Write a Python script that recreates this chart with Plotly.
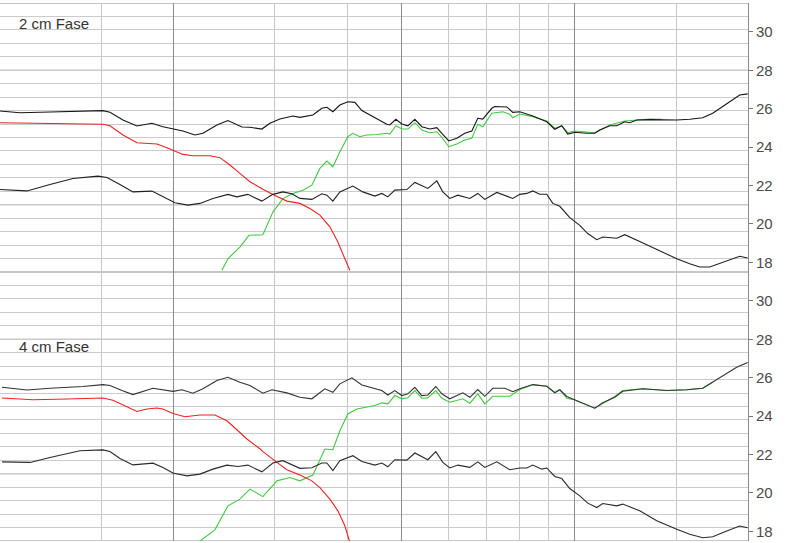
import plotly.graph_objects as go

# ---------------- data (x = position along the unlabeled horizontal axis) ----------------
# Panel 1: "2 cm Fase"
t1_x = [0, 20, 50, 80, 103, 110, 123, 137, 152, 163, 173, 183, 195, 203, 217, 228, 242, 250, 262, 270,
        280, 293, 300, 313, 322, 327, 333, 340, 348, 355, 362, 373, 387, 390, 396, 402, 408, 415, 422, 430,
        437, 442, 449, 457, 465, 472, 478, 483, 492, 495, 507, 513, 520, 533, 547, 555, 562, 568, 575, 587,
        595, 600, 610, 617, 625, 630, 637, 650, 677, 690, 703, 713, 723, 733, 740, 748]
t1_y = [25.88, 25.79, 25.83, 25.88, 25.90, 25.81, 25.41, 25.10, 25.24, 25.06, 24.94, 24.84, 24.63, 24.72, 25.15, 25.38, 25.05, 25.03, 24.94, 25.24,
        25.46, 25.62, 25.55, 25.67, 26.02, 26.07, 25.84, 26.19, 26.36, 26.33, 25.90, 25.58, 25.19, 25.15, 25.45, 25.20, 25.11, 25.45, 25.06, 24.94,
        25.01, 24.72, 24.32, 24.46, 24.72, 24.84, 25.50, 25.46, 26.02, 26.11, 26.09, 25.81, 25.84, 25.62, 25.32, 24.93, 25.11, 24.68, 24.77, 24.72,
        24.72, 24.89, 25.11, 25.11, 25.32, 25.27, 25.41, 25.43, 25.41, 25.45, 25.53, 25.76, 26.11, 26.48, 26.71, 26.77]

b1_x = [0, 27, 50, 73, 98, 107, 120, 133, 152, 163, 175, 188, 200, 213, 228, 237, 248, 262, 273, 283,
        292, 300, 312, 322, 327, 333, 340, 353, 363, 375, 382, 388, 395, 407, 415, 428, 437, 443, 450, 458,
        470, 478, 485, 497, 510, 513, 520, 527, 533, 540, 547, 553, 560, 570, 580, 588, 597, 603, 617, 625,
        640, 657, 677, 690, 700, 710, 723, 740, 748]
b1_y = [21.79, 21.72, 22.05, 22.37, 22.49, 22.42, 22.05, 21.67, 21.71, 21.41, 21.10, 20.98, 21.07, 21.33, 21.54, 21.41, 21.54, 21.19, 21.54, 21.67,
        21.57, 21.33, 21.28, 21.57, 21.50, 21.19, 21.67, 21.97, 21.67, 21.45, 21.59, 21.41, 21.76, 21.79, 22.16, 21.85, 22.24, 21.67, 21.33, 21.50,
        21.33, 21.59, 21.28, 21.64, 21.41, 21.33, 21.54, 21.59, 21.72, 21.55, 21.55, 21.07, 20.92, 20.33, 19.93, 19.50, 19.18, 19.32, 19.26, 19.44,
        19.09, 18.66, 18.19, 17.93, 17.76, 17.76, 18.02, 18.32, 18.23]

r1_x = [0, 33, 67, 103, 110, 123, 137, 147, 157, 167, 173, 183, 193, 210, 220, 230, 240, 250, 263, 273,
        287, 300, 310, 320, 330, 338, 345, 350]
r1_y = [25.27, 25.24, 25.24, 25.19, 25.11, 24.63, 24.23, 24.20, 24.16, 23.97, 23.85, 23.62, 23.55, 23.55, 23.45, 23.07, 22.63, 22.20, 21.81, 21.53,
        21.19, 21.07, 20.80, 20.46, 19.85, 19.06, 18.19, 17.59]

g1_x = [222, 228, 240, 249, 263, 273, 283, 293, 303, 312, 320, 327, 333, 340, 348, 353, 360, 367, 377, 387,
        390, 396, 402, 408, 415, 422, 430, 437, 442, 449, 457, 465, 472, 478, 483, 492, 503, 510, 513, 520,
        533, 547, 555, 562, 568, 575, 595, 610, 625, 637, 650, 662]
g1_y = [17.59, 18.19, 18.80, 19.41, 19.44, 20.62, 21.32, 21.59, 21.76, 22.02, 22.89, 23.27, 22.98, 23.76, 24.54, 24.72, 24.54, 24.63, 24.66, 24.72,
        24.68, 25.11, 24.94, 24.94, 25.27, 24.89, 24.75, 24.80, 24.51, 24.02, 24.16, 24.37, 24.46, 25.19, 25.06, 25.76, 25.84, 25.71, 25.53, 25.72,
        25.58, 25.36, 24.98, 25.11, 24.75, 24.84, 24.75, 25.15, 25.36, 25.41, 25.46, 25.45]

# Panel 2: "4 cm Fase"
t2_x = [2, 27, 50, 83, 103, 110, 122, 133, 153, 173, 182, 193, 203, 217, 228, 240, 250, 263, 272, 287,
        300, 312, 325, 333, 340, 352, 362, 375, 382, 388, 395, 402, 408, 415, 422, 428, 436, 442, 450, 463,
        470, 478, 485, 493, 505, 513, 520, 533, 547, 555, 560, 567, 575, 595, 603, 615, 623, 633, 643, 667,
        687, 703, 713, 727, 737, 748]
t2_y = [25.50, 25.36, 25.45, 25.54, 25.64, 25.59, 25.33, 25.12, 25.45, 25.29, 25.37, 25.19, 25.42, 25.85, 26.02, 25.76, 25.59, 25.19, 25.37, 25.21,
        24.98, 24.90, 25.42, 25.24, 25.68, 25.99, 25.62, 25.42, 25.33, 25.10, 25.33, 25.07, 25.16, 25.50, 25.07, 25.10, 25.54, 25.16, 24.90, 25.21,
        24.98, 25.38, 25.03, 25.45, 25.45, 25.27, 25.42, 25.64, 25.55, 25.21, 25.37, 25.02, 24.84, 24.41, 24.69, 24.98, 25.29, 25.37, 25.42, 25.33,
        25.37, 25.45, 25.76, 26.20, 26.54, 26.79]

b2_x = [2, 30, 50, 80, 103, 110, 120, 133, 153, 163, 173, 187, 200, 213, 227, 238, 248, 262, 273, 283,
        300, 312, 322, 327, 333, 340, 353, 362, 375, 382, 388, 395, 407, 415, 428, 436, 443, 450, 458, 470,
        478, 485, 497, 510, 520, 527, 533, 542, 547, 555, 562, 570, 580, 588, 597, 603, 617, 623, 640, 657,
        677, 690, 703, 713, 727, 740, 748]
b2_y = [21.62, 21.59, 21.85, 22.20, 22.24, 22.16, 21.79, 21.46, 21.55, 21.33, 21.04, 20.89, 20.98, 21.24, 21.45, 21.38, 21.45, 21.10, 21.56, 21.68,
        21.28, 21.31, 21.56, 21.56, 21.16, 21.68, 21.94, 21.64, 21.45, 21.56, 21.36, 21.73, 21.71, 22.08, 21.73, 22.15, 21.59, 21.30, 21.45, 21.33,
        21.62, 21.33, 21.62, 21.21, 21.30, 21.30, 21.45, 21.24, 21.30, 20.86, 20.75, 20.23, 19.85, 19.47, 19.24, 19.45, 19.33, 19.42, 19.07, 18.55,
        18.11, 17.85, 17.67, 17.72, 18.02, 18.28, 18.19]

r2_x = [2, 33, 67, 103, 113, 123, 137, 147, 157, 163, 173, 185, 200, 215, 227, 237, 247, 260, 263, 277,
        287, 300, 312, 320, 330, 338, 345, 350]
r2_y = [24.94, 24.85, 24.89, 24.94, 24.83, 24.57, 24.24, 24.37, 24.42, 24.37, 24.14, 23.97, 24.06, 24.06, 23.76, 23.29, 22.81, 22.30, 22.15, 21.59,
        21.21, 20.93, 20.63, 20.28, 19.68, 19.07, 18.29, 17.42]

g2_x = [197, 215, 228, 240, 250, 263, 277, 290, 300, 313, 325, 333, 340, 348, 357, 365, 375, 382, 388, 395,
        402, 408, 415, 422, 428, 436, 442, 450, 463, 470, 478, 485, 493, 510, 520, 533, 547, 555, 560, 567,
        575, 595, 615, 623, 643, 667, 687, 703, 713]
g2_y = [17.38, 18.08, 19.33, 19.68, 20.20, 19.81, 20.63, 20.80, 20.63, 20.93, 22.29, 22.25, 23.24, 24.11, 24.37, 24.46, 24.55, 24.69, 24.64, 25.07,
        24.90, 24.95, 25.33, 24.93, 24.95, 25.33, 24.93, 24.72, 24.90, 24.67, 25.16, 24.64, 25.03, 25.03, 25.38, 25.63, 25.55, 25.24, 25.38, 24.93,
        24.84, 24.41, 25.02, 25.33, 25.42, 25.33, 25.37, 25.45, 25.76]

# axis / grid values
y_range = [17.5, 31.5]
y_labels = [18, 20, 22, 24, 26, 28, 30]
y_major_grid = [17.5, 21, 24.5, 28, 31.5]
y_minor_step = 0.7
x_range = [0, 748.3]
x_major_grid = [0, 173.7, 401.7, 575, 748.3]
x_minor_grid = [101.7, 275, 347.3, 449, 486.7, 520, 548.7, 676.7]
panel_titles = ["2 cm Fase", "4 cm Fase"]

# ---------------- figure ----------------
GREEN = "#3fcb3f"
RED = "#f02020"
FONT = "Arial, Liberation Sans, sans-serif"
fig = go.Figure()

def add(x, y, color, xa, ya, width=1.1):
    fig.add_trace(go.Scatter(x=x, y=y, mode="lines", line=dict(color=color, width=width),
                             xaxis=xa, yaxis=ya, showlegend=False, hoverinfo="skip"))

# panel 1
add(g1_x, g1_y, GREEN, "x", "y")
add(r1_x, r1_y, RED, "x", "y")
add(t1_x, t1_y, "#151515", "x", "y")
add(b1_x, b1_y, "#202020", "x", "y")
# panel 2
add(g2_x, g2_y, GREEN, "x2", "y2")
add(r2_x, r2_y, RED, "x2", "y2")
add(t2_x, t2_y, "#333333", "x2", "y2")
add(b2_x, b2_y, "#2a2a2a", "x2", "y2")

xgrid = dict(range=x_range, tickmode="array", tickvals=x_major_grid, showticklabels=False, ticks="",
             showgrid=True, gridcolor="#8c8c8c", gridwidth=1, zeroline=False, showline=False,
             minor=dict(tickmode="array", tickvals=x_minor_grid, showgrid=True, gridcolor="#c8c8c8",
                        gridwidth=1, ticks=""))
yax = dict(range=y_range, tickmode="array", tickvals=y_labels, side="right", showgrid=False,
           ticks="outside", ticklen=4, tickcolor="#777777", showline=True, linecolor="#8a8a8a",
           linewidth=1, zeroline=False,
           tickfont=dict(family=FONT, size=15, color="#4a4a4a"),
           minor=dict(tick0=y_range[0], dtick=y_minor_step, showgrid=True, gridcolor="#cbcbcb",
                      gridwidth=1, ticks=""))

# darker horizontal grid lines every 3.5 units (layout decoration)
shapes = []
for yref in ("y", "y2"):
    for gv in y_major_grid:
        shapes.append(dict(type="line", xref="paper", x0=0, x1=1, yref=yref, y0=gv, y1=gv,
                           line=dict(color="#8c8c8c", width=1), layer="below"))

fig.update_layout(
    width=800, height=543,
    margin=dict(l=0, r=52, t=3, b=2),
    paper_bgcolor="white", plot_bgcolor="white",
    xaxis=dict(domain=[0, 1], anchor="y", **xgrid),
    xaxis2=dict(domain=[0, 1], anchor="y2", matches="x", **xgrid),
    yaxis=dict(domain=[0.5, 1], anchor="x", **yax),
    yaxis2=dict(domain=[0, 0.5], anchor="x2", **yax),
    shapes=shapes,
    annotations=[
        dict(text=panel_titles[0], x=17, y=30.45, xref="x", yref="y", xanchor="left", yanchor="middle",
             showarrow=False, font=dict(family=FONT, size=15, color="#333333")),
        dict(text=panel_titles[1], x=17, y=27.62, xref="x2", yref="y2", xanchor="left", yanchor="middle",
             showarrow=False, font=dict(family=FONT, size=15, color="#333333")),
    ],
)

fig.write_html("out.html", config={"displayModeBar": False},
               post_script="document.body.style.margin='0px';")
